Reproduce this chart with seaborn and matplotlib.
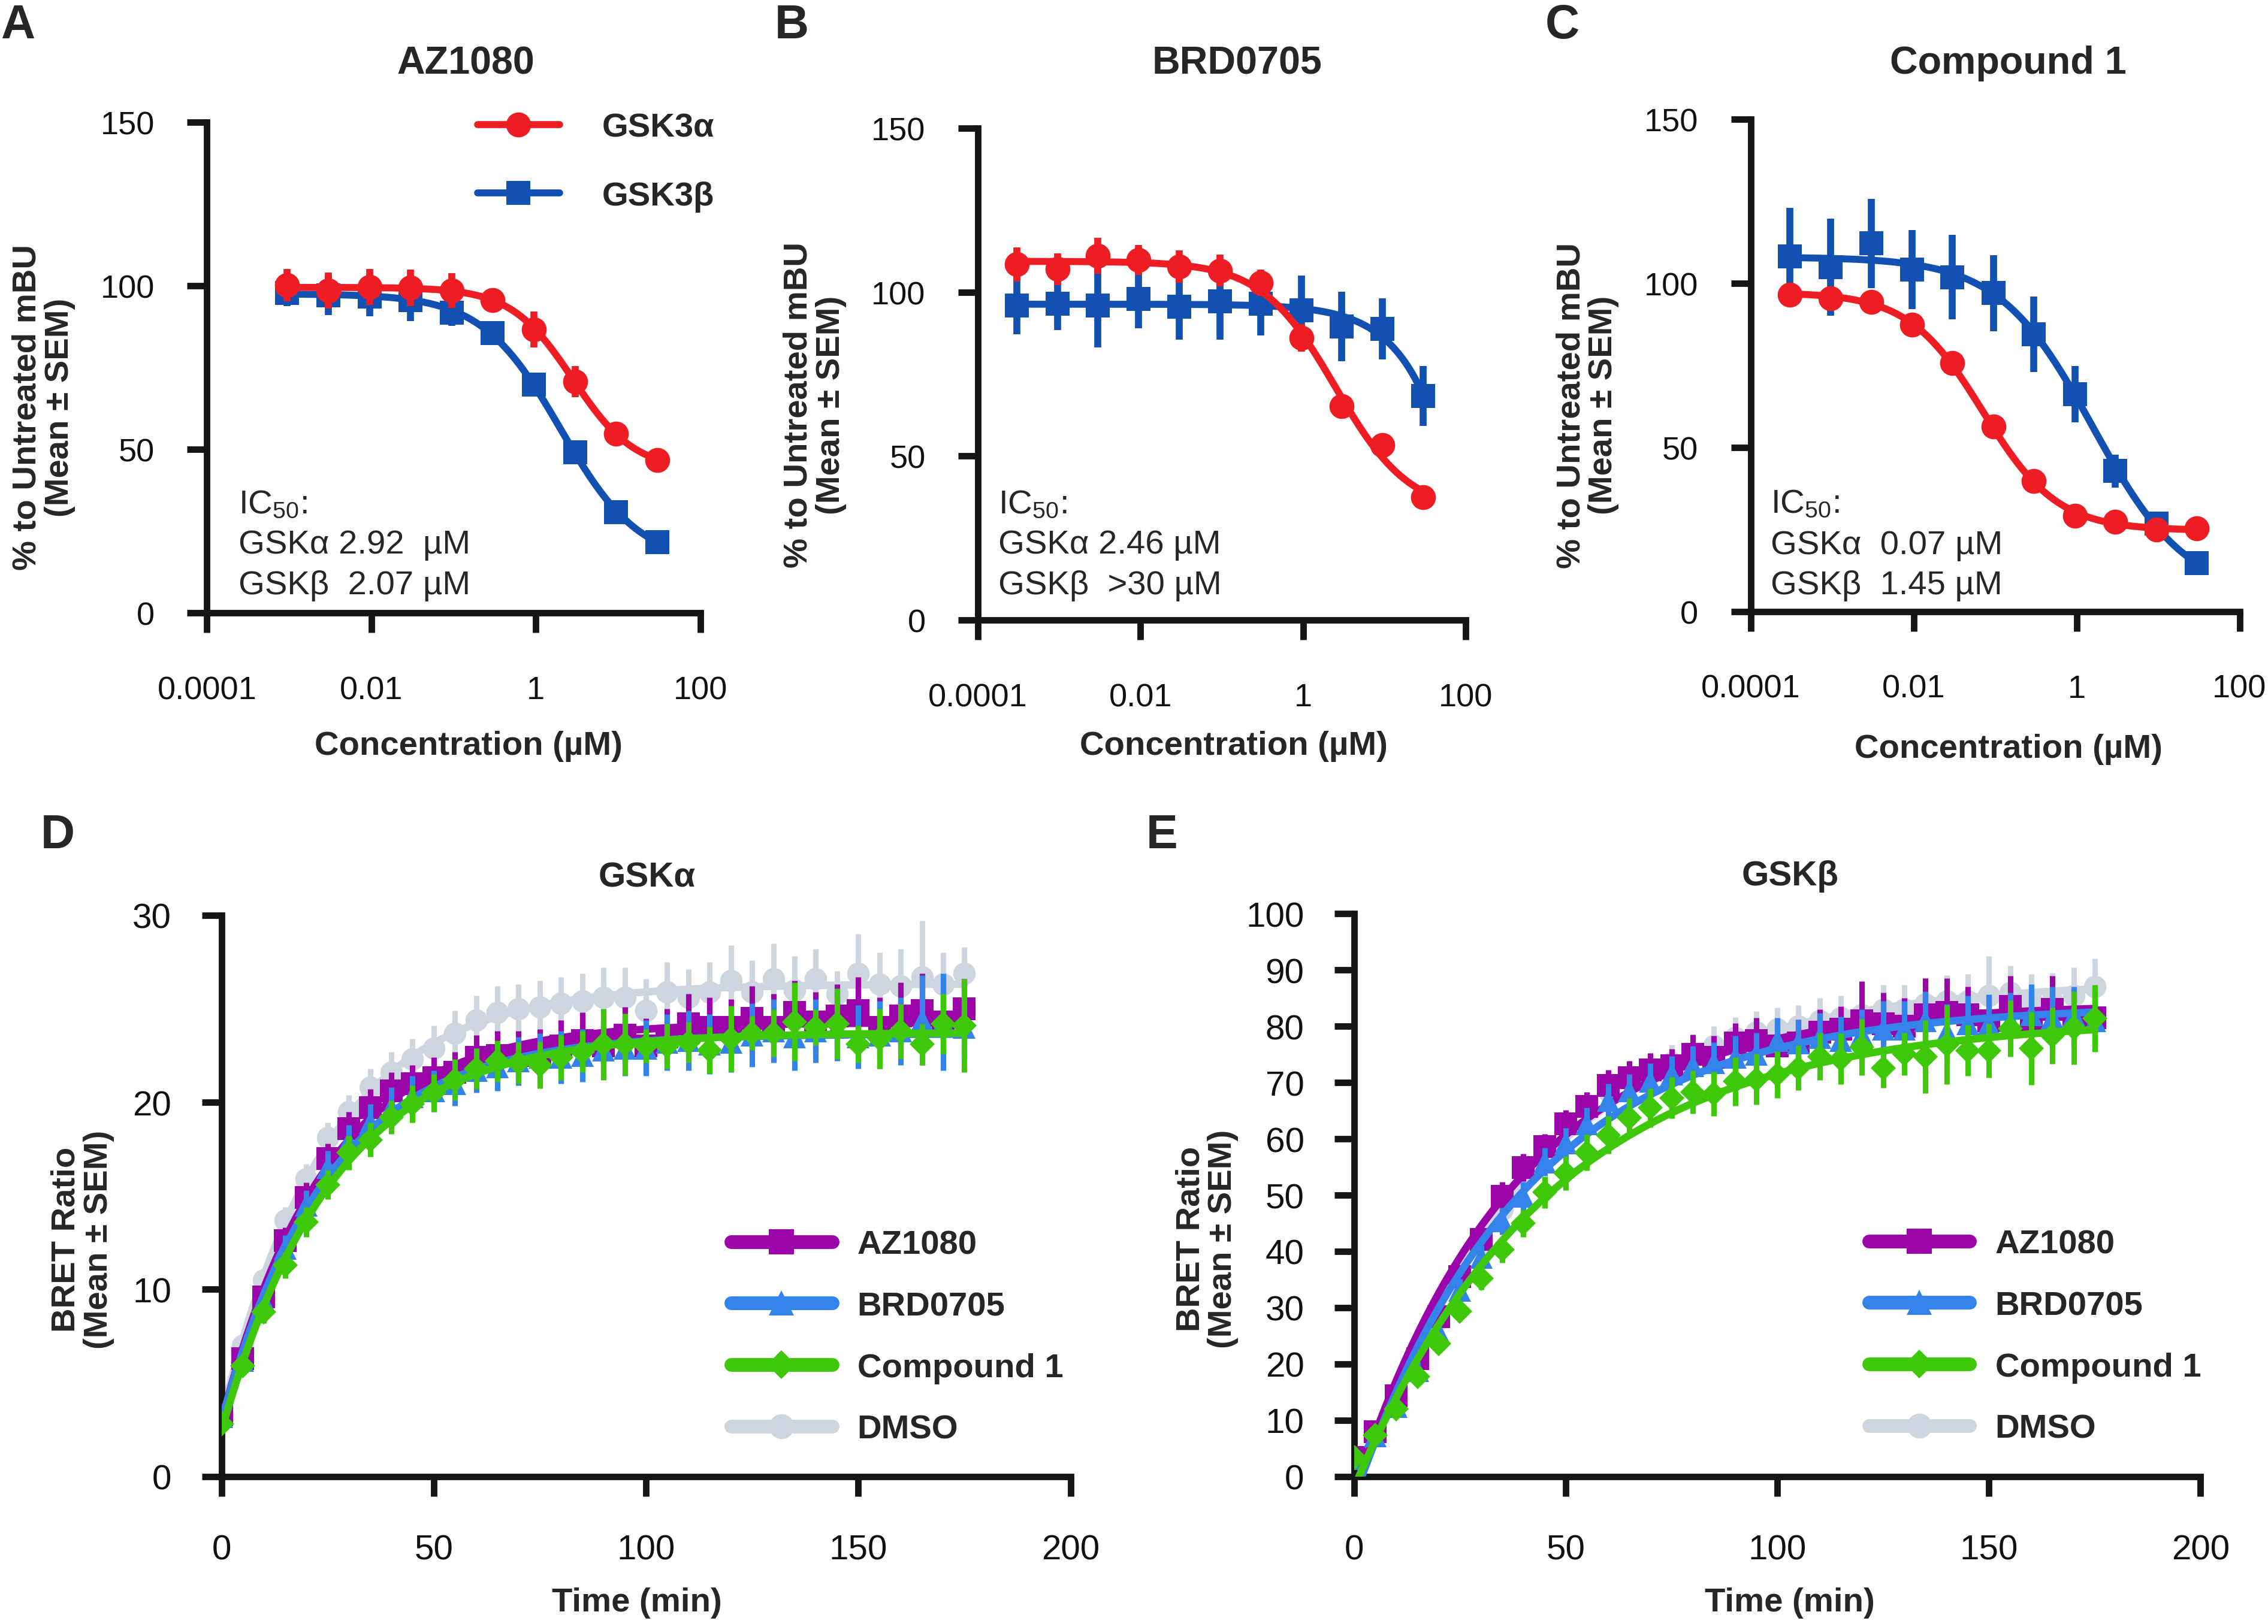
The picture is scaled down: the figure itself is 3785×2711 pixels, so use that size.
import numpy as np
import pandas as pd
import matplotlib
matplotlib.use("Agg")
import matplotlib.pyplot as plt
from matplotlib.lines import Line2D
import seaborn as sns

sns.set_theme(style="ticks")
plt.rcParams['font.family'] = ['Liberation Sans', 'DejaVu Sans']
plt.rcParams['mathtext.default'] = 'regular'

# ---------------- data: dose response (A-C) ----------------
conc_A = [0.00095, 0.003, 0.0095, 0.03, 0.095, 0.3, 0.95, 3.0, 9.5, 30.0]
conc_BC = [0.0003, 0.00095, 0.003, 0.0095, 0.03, 0.095, 0.3, 0.95, 3.0, 9.5, 30.0]

A_alpha = [100.2, 98.5, 99.7, 99.4, 98.6, 95.6, 86.6, 70.7, 54.8, 46.8]
A_alpha_err = [5.0, 5.5, 5.5, 5.5, 5.3, 3.4, 5.5, 4.7, 1.0, 1.0]
A_beta = [97.9, 97.1, 96.7, 95.6, 91.8, 85.5, 69.9, 49.2, 30.7, 21.6]
A_beta_err = [4.0, 6.0, 6.0, 6.3, 4.0, 2.0, 1.0, 1.0, 1.0, 1.0]

B_alpha = [108.5, 107.0, 111.1, 109.8, 107.8, 106.6, 102.8, 86.1, 65.3, 53.4, 37.5]
B_alpha_err = [5.2, 4.8, 5.5, 4.6, 5.0, 4.9, 4.0, 4.2, 1.5, 1.5, 1.5]
B_beta = [95.9, 96.4, 95.9, 97.9, 95.6, 97.2, 96.4, 94.4, 89.6, 88.8, 68.3]
B_beta_err = [8.7, 8.0, 12.7, 9.0, 10.0, 11.7, 9.6, 10.6, 10.6, 9.3, 9.1]

C_alpha = [96.6, 95.4, 94.3, 87.5, 75.8, 56.4, 39.7, 29.1, 27.3, 24.9, 25.3]
C_alpha_err = [1.5, 1.5, 1.5, 1.5, 1.5, 1.5, 1.5, 1.5, 1.5, 1.5, 1.5]
C_beta = [108.3, 105.0, 112.2, 104.2, 101.9, 97.1, 84.5, 66.3, 42.8, 26.8, 14.7]
C_beta_err = [14.8, 14.8, 13.6, 12.1, 12.9, 11.6, 11.5, 8.6, 5.0, 1.0, 1.0]

dose_titles = ["AZ1080", "BRD0705", "Compound 1"]
ic50_text = [["GSKα 2.92  µM", "GSKβ  2.07 µM"],
             ["GSKα 2.46 µM", "GSKβ  >30 µM"],
             ["GSKα  0.07 µM", "GSKβ  1.45 µM"]]
conc_ticks = [0.0001, 0.01, 1, 100]
conc_ticklabels = ["0.0001", "0.01", "1", "100"]

# ---------------- data: time course (D-E) ----------------
time_min = [0, 5, 10, 15, 20, 25, 30, 35, 40, 45, 50, 55, 60, 65, 70, 75, 80, 85,
            90, 95, 100, 105, 110, 115, 120, 125, 130, 135, 140, 145, 150, 155, 160, 165, 170, 175]

D_az = [3.3, 6.3, 9.6, 12.6, 14.9, 17.0, 18.6, 19.7, 20.6, 21.0, 21.3, 21.6, 22.4, 22.5, 22.5, 22.6, 23.0, 23.3,
        23.0, 23.6, 23.0, 23.5, 24.2, 24.0, 24.0, 24.5, 24.0, 24.8, 24.3, 24.6, 24.9, 24.0, 24.6, 24.9, 24.3, 25.0]
D_az_err = [0.3, 0.4, 0.6, 0.7, 0.8, 0.8, 0.9, 1.0, 1.0, 1.0, 1.1, 1.1, 1.2, 1.3, 1.3, 1.3, 1.4, 1.5,
            1.4, 1.5, 1.5, 1.5, 1.6, 1.6, 1.5, 1.7, 1.8, 1.7, 1.6, 1.7, 1.8, 1.6, 1.8, 2.0, 1.7, 1.6]
D_brd = [3.2, 6.2, 9.4, 12.2, 14.5, 16.5, 17.9, 18.9, 19.7, 20.3, 20.6, 21.0, 21.7, 21.9, 22.2, 22.4, 22.4, 22.5,
         22.8, 22.9, 22.9, 23.2, 23.3, 23.1, 23.2, 23.6, 23.8, 23.5, 23.8, 24.0, 23.5, 23.6, 23.8, 24.4, 24.3, 24.0]
D_brd_err = [0.3, 0.4, 0.6, 0.7, 0.8, 0.9, 0.9, 1.0, 1.1, 1.1, 1.1, 1.2, 1.2, 1.3, 1.3, 1.3, 1.4, 1.4,
             1.4, 1.5, 1.5, 1.5, 1.6, 1.6, 1.6, 1.7, 1.7, 1.8, 1.7, 1.8, 1.7, 1.8, 1.8, 2.4, 2.6, 1.6]
D_cpd = [2.8, 5.9, 8.8, 11.3, 13.6, 15.6, 17.3, 18.0, 19.2, 19.9, 20.5, 21.2, 21.8, 22.2, 22.1, 22.0, 22.4, 22.7,
         23.1, 23.1, 23.0, 23.0, 23.2, 22.8, 23.4, 23.7, 23.7, 24.3, 24.0, 24.2, 23.1, 23.4, 23.8, 23.1, 24.2, 24.1]
D_cpd_err = [0.3, 0.4, 0.6, 0.7, 0.8, 0.8, 0.9, 0.9, 0.9, 1.0, 1.0, 1.1, 1.1, 1.1, 1.1, 1.25, 1.2, 1.1,
             1.9, 1.65, 0.9, 1.2, 1.1, 1.25, 1.75, 0.9, 1.25, 2.1, 0.95, 1.9, 1.0, 1.6, 1.45, 1.1, 1.6, 2.5]
D_dmso = [3.3, 7.0, 10.5, 13.7, 15.9, 18.1, 19.5, 20.8, 21.6, 22.3, 22.9, 23.7, 24.4, 24.8, 25.0, 25.1, 25.3, 25.4,
          25.6, 25.6, 24.9, 25.9, 25.6, 25.9, 26.5, 25.9, 26.6, 26.0, 26.6, 25.8, 26.9, 26.3, 26.2, 26.7, 26.3, 26.9]
D_dmso_err = [0.3, 0.5, 0.6, 0.7, 0.8, 0.8, 0.9, 1.0, 1.1, 1.1, 1.2, 1.2, 1.3, 1.4, 1.3, 1.4, 1.4, 1.5,
              1.6, 1.6, 1.7, 1.6, 1.5, 1.6, 1.9, 1.7, 1.9, 1.8, 1.6, 1.2, 2.1, 1.7, 2.0, 3.0, 1.7, 1.4]

E_az = [3.4, 8.0, 14.3, 20.9, 28.4, 35.5, 42.1, 49.8, 54.9, 58.6, 62.7, 65.8, 69.5, 70.9, 72.2, 73.0, 75.0, 74.5,
        77.0, 77.5, 76.5, 77.0, 79.0, 79.5, 81.0, 80.5, 80.0, 82.0, 82.5, 82.0, 81.0, 83.5, 80.5, 83.0, 81.5, 81.5]
E_az_err = [0.5, 1.0, 1.3, 1.5, 1.8, 2.0, 2.2, 2.5, 2.5, 2.3, 2.4, 2.5, 2.8, 3.0, 3.0, 3.0, 3.5, 3.8,
            3.6, 4.0, 4.0, 4.2, 4.0, 4.0, 7.0, 5.5, 5.0, 6.5, 6.0, 5.0, 4.5, 5.5, 5.5, 6.0, 5.0, 4.5]
E_brd = [3.2, 7.2, 12.4, 18.8, 25.6, 33.1, 38.9, 45.4, 49.8, 55.9, 59.3, 62.7, 66.8, 68.5, 70.2, 71.5, 73.0, 73.5,
         74.5, 75.0, 77.5, 77.0, 78.0, 77.5, 78.5, 79.5, 79.5, 81.0, 79.0, 80.5, 80.5, 81.0, 82.0, 81.5, 82.0, 81.0]
E_brd_err = [0.5, 0.9, 1.2, 1.5, 1.8, 2.0, 2.2, 2.4, 2.5, 2.5, 2.6, 2.8, 3.0, 3.0, 3.2, 3.2, 3.5, 3.6,
             3.8, 3.8, 4.0, 4.2, 4.4, 4.2, 4.5, 5.0, 5.0, 5.2, 5.0, 5.0, 5.2, 5.0, 5.5, 5.5, 5.0, 4.5]
E_cpd = [3.4, 7.3, 12.0, 17.8, 23.6, 29.4, 35.2, 40.3, 45.0, 50.5, 53.9, 57.6, 60.7, 63.7, 65.5, 67.3, 68.3, 68.0,
         70.2, 70.6, 71.4, 72.6, 74.6, 74.2, 76.3, 72.6, 75.1, 74.6, 76.7, 75.7, 75.7, 79.6, 76.1, 78.3, 79.7, 81.4]
E_cpd_err = [0.5, 0.8, 1.0, 1.3, 1.5, 1.7, 2.0, 2.3, 2.5, 2.8, 3.0, 3.2, 3.4, 3.5, 3.5, 3.7, 3.8, 3.9,
             4.3, 4.5, 4.2, 4.0, 4.2, 4.5, 5.0, 3.5, 3.8, 6.5, 7.0, 4.5, 4.8, 5.0, 6.5, 5.0, 6.5, 6.0]
E_dmso = [3.5, 8.0, 14.0, 21.0, 28.0, 35.0, 41.5, 47.5, 53.0, 58.0, 62.0, 65.5, 68.5, 70.5, 72.0, 73.5, 75.0, 76.5,
          78.0, 79.0, 79.5, 80.0, 81.0, 81.5, 82.0, 83.0, 83.0, 84.0, 84.5, 84.5, 85.5, 86.0, 84.5, 84.5, 85.5, 87.0]
E_dmso_err = [0.5, 1.0, 1.3, 1.5, 1.8, 2.0, 2.2, 2.4, 2.5, 2.6, 2.7, 2.8, 3.0, 3.0, 3.2, 3.2, 3.4, 3.5,
              3.6, 3.7, 3.8, 3.8, 4.0, 4.0, 4.2, 4.4, 4.4, 4.6, 4.6, 4.8, 7.0, 4.8, 4.8, 5.0, 5.0, 5.0]

treatments = ["AZ1080", "BRD0705", "Compound 1", "DMSO"]

# ---------------- styles ----------------
RED = "#EE1D24"
BLUE = "#1250B2"
TC_COLORS = {"AZ1080": "#9A04A8", "BRD0705": "#3383EA", "Compound 1": "#3FC80A", "DMSO": "#CDD6DE"}
TC_MARKERS = {"AZ1080": "s", "BRD0705": "^", "Compound 1": "D", "DMSO": "o"}
TC_MS = {"AZ1080": 9, "BRD0705": 9, "Compound 1": 7, "DMSO": 9}
AXC = "#151515"


def fit_4pl(x, y):
    lx = np.log10(np.asarray(x, float))
    y = np.asarray(y, float)
    best = None
    for c in np.linspace(-4.5, 3.0, 151):
        for h in np.linspace(0.3, 3.0, 55):
            s = 1.0 / (1.0 + 10 ** ((lx - c) * h))
            M = np.column_stack([1 - s, s])
            coef = np.linalg.lstsq(M, y, rcond=None)[0]
            r = np.sum((M @ coef - y) ** 2)
            if best is None or r < best[0]:
                best = (r, c, h, coef)
    _, c, h, coef = best

    def f(xx):
        s = 1.0 / (1.0 + 10 ** ((np.log10(xx) - c) * h))
        return coef[0] * (1 - s) + coef[1] * s
    return f


def fit_assoc(t, y):
    t = np.asarray(t, float)
    y = np.asarray(y, float)
    best = None
    for k in np.linspace(0.002, 0.25, 500):
        e = np.exp(-k * t)
        M = np.column_stack([e, 1 - e])
        coef = np.linalg.lstsq(M, y, rcond=None)[0]
        r = np.sum((M @ coef - y) ** 2)
        if best is None or r < best[0]:
            best = (r, k, coef)
    _, k, coef = best
    return lambda tt: coef[0] * np.exp(-k * tt) + coef[1] * (1 - np.exp(-k * tt))


def style_axes(ax, labelsize, xpad, ypad):
    for s in ["top", "right"]:
        ax.spines[s].set_visible(False)
    for s in ["left", "bottom"]:
        ax.spines[s].set_linewidth(2.6)
        ax.spines[s].set_color(AXC)
    ax.tick_params(axis="both", which="major", width=2.6, length=8, color=AXC,
                   labelsize=labelsize, labelcolor="#111111")
    ax.tick_params(axis="x", pad=xpad)
    ax.tick_params(axis="y", pad=ypad)
    ax.tick_params(which="minor", length=0)


fig = plt.figure(figsize=(12.62, 9.04), dpi=300)

dose_axes_pos = [[0.0912, 0.6224, 0.2175, 0.3019],
                 [0.4311, 0.6180, 0.2149, 0.3027],
                 [0.7717, 0.6233, 0.2155, 0.3028]]
dose_data = [(conc_A, A_alpha, A_alpha_err, A_beta, A_beta_err),
             (conc_BC, B_alpha, B_alpha_err, B_beta, B_beta_err),
             (conc_BC, C_alpha, C_alpha_err, C_beta, C_beta_err)]
ylab_xy = [(-0.331, 0.42), (-0.335, 0.438), (-0.334, 0.42)]
xlab_xy = [(0.53, -0.271), (0.525, -0.256), (0.527, -0.279)]
title_xy = [(0.525, 1.121), (0.531, 1.132), (0.527, 1.115)]
ic_xy = [(0.0645, [0.221, 0.139, 0.056]), (0.042, [0.235, 0.153, 0.071]), (0.041, [0.218, 0.135, 0.053])]
letters_top = [("A", 0.0077), ("B", 0.3489), ("C", 0.6888)]

for i in range(3):
    ax = fig.add_axes(dose_axes_pos[i])
    conc, ya, ea, yb, eb = dose_data[i]
    xs = np.logspace(np.log10(conc[0]), np.log10(conc[-1]), 300)
    for (yv, ev, col, mk, ms, z) in [(yb, eb, BLUE, "s", 9.5, 2), (ya, ea, RED, "o", 10, 4)]:
        f = fit_4pl(conc, yv)
        curve = pd.DataFrame({"conc": xs, "resp": f(xs)})
        sns.lineplot(data=curve, x="conc", y="resp", ax=ax, color=col, linewidth=2.8,
                     legend=False, zorder=z)
        ax.errorbar(conc, yv, yerr=ev, fmt=mk, color=col, ms=ms, mew=0,
                    elinewidth=2.8, capsize=5.5, capthick=3.0, zorder=z + 1)
    ax.set_xscale("log")
    ax.set_xlim(1e-4, 100)
    ax.set_ylim(0, 150)
    ax.set_xticks(conc_ticks)
    ax.set_xticklabels(conc_ticklabels)
    ax.set_yticks([0, 50, 100, 150])
    ax.minorticks_off()
    style_axes(ax, 13, 17, 13)
    ax.set_xlabel("Concentration (µM)", fontsize=13.5, fontweight="bold", va="center")
    ax.xaxis.set_label_coords(*xlab_xy[i])
    ax.set_ylabel("% to Untreated mBU\n(Mean ± SEM)", fontsize=13.5, fontweight="bold",
                  va="center", linespacing=1.05)
    ax.yaxis.set_label_coords(*ylab_xy[i])
    ax.text(title_xy[i][0], title_xy[i][1], dose_titles[i], transform=ax.transAxes,
            fontsize=15.5, fontweight="bold", ha="center", va="center")
    tx, tys = ic_xy[i]
    ax.text(tx, tys[0], "IC$_{50}$:", transform=ax.transAxes, fontsize=13.5, ha="left", va="center")
    ax.text(tx, tys[1], ic50_text[i][0], transform=ax.transAxes, fontsize=13.5, ha="left", va="center")
    ax.text(tx, tys[2], ic50_text[i][1], transform=ax.transAxes, fontsize=13.5, ha="left", va="center")
    if i == 0:
        handles = [Line2D([], [], color=RED, marker="o", ms=10, mew=0, lw=2.8),
                   Line2D([], [], color=BLUE, marker="s", ms=9.5, mew=0, lw=2.8)]
        ax.legend(handles, ["GSK3α", "GSK3β"], loc="upper left", bbox_to_anchor=(0.548, 1.02),
                  frameon=False, handlelength=2.45, handletextpad=1.25,
                  labelspacing=1.1, borderpad=0, borderaxespad=0,
                  prop={"weight": "bold", "size": 13.5})
    fig.text(letters_top[i][1], 0.984, letters_top[i][0], fontsize=19, fontweight="bold",
             ha="center", va="center")

# ---------------- time course panels ----------------
tc_axes_pos = [[0.0976, 0.0908, 0.3743, 0.3455],
               [0.5969, 0.0908, 0.3731, 0.3464]]
tc_sets = [{"AZ1080": (D_az, D_az_err), "BRD0705": (D_brd, D_brd_err),
            "Compound 1": (D_cpd, D_cpd_err), "DMSO": (D_dmso, D_dmso_err)},
           {"AZ1080": (E_az, E_az_err), "BRD0705": (E_brd, E_brd_err),
            "Compound 1": (E_cpd, E_cpd_err), "DMSO": (E_dmso, E_dmso_err)}]
tc_titles = ["GSKα", "GSKβ"]
tc_ylim = [(0, 30), (0, 100)]
tc_yticks = [[0, 10, 20, 30], list(range(0, 101, 10))]
tc_ylab = [(-0.1635, 0.423), (-0.174, 0.423)]
tc_xlab = [(0.489, -0.224), (0.515, -0.224)]
tc_title = [(0.501, 1.067), (0.515, 1.067)]
tc_leg = [(0.60, 0.44), (0.608, 0.44)]
tc_letters = [("D", 0.0255), ("E", 0.5121)]
draw_order = ["DMSO", "AZ1080", "BRD0705", "Compound 1"]

for j in range(2):
    ax = fig.add_axes(tc_axes_pos[j])
    ts = np.linspace(0, time_min[-1], 300)
    for zi, name in enumerate(draw_order):
        yv, ev = tc_sets[j][name]
        col = TC_COLORS[name]
        f = fit_assoc(time_min, yv)
        curve = pd.DataFrame({"time": ts, "bret": f(ts)})
        sns.lineplot(data=curve, x="time", y="bret", ax=ax, color=col, linewidth=3.0,
                     legend=False, zorder=2 + 2 * zi)
        ax.errorbar(time_min, yv, yerr=ev, fmt=TC_MARKERS[name], color=col, ms=TC_MS[name], mew=0,
                    elinewidth=2.2, capsize=4.8, capthick=2.8, zorder=3 + 2 * zi)
    ax.set_xlim(0, 200)
    ax.set_ylim(*tc_ylim[j])
    ax.set_xticks([0, 50, 100, 150, 200])
    ax.set_yticks(tc_yticks[j])
    style_axes(ax, 14, 15, 12)
    ax.set_xlabel("Time (min)", fontsize=13.5, fontweight="bold", va="center")
    ax.xaxis.set_label_coords(*tc_xlab[j])
    ax.set_ylabel("BRET Ratio\n(Mean ± SEM)", fontsize=13.5, fontweight="bold", va="center",
                  linespacing=1.05)
    ax.yaxis.set_label_coords(*tc_ylab[j])
    ax.text(tc_title[j][0], tc_title[j][1], tc_titles[j], transform=ax.transAxes,
            fontsize=14, fontweight="bold", ha="center", va="center")
    handles = [Line2D([], [], color=TC_COLORS[n], marker=TC_MARKERS[n], ms=TC_MS[n] + 1, mew=0, lw=5.5,
                      solid_capstyle="round") for n in treatments]
    ax.legend(handles, treatments, loc="upper left", bbox_to_anchor=tc_leg[j], frameon=False,
              handlelength=3.0, handletextpad=0.75, labelspacing=0.9, borderpad=0, borderaxespad=0,
              prop={"weight": "bold", "size": 13.5})
    fig.text(tc_letters[j][1], 0.4853, tc_letters[j][0], fontsize=19, fontweight="bold",
             ha="center", va="center")

fig.savefig("out.png", dpi=300, facecolor="white")
